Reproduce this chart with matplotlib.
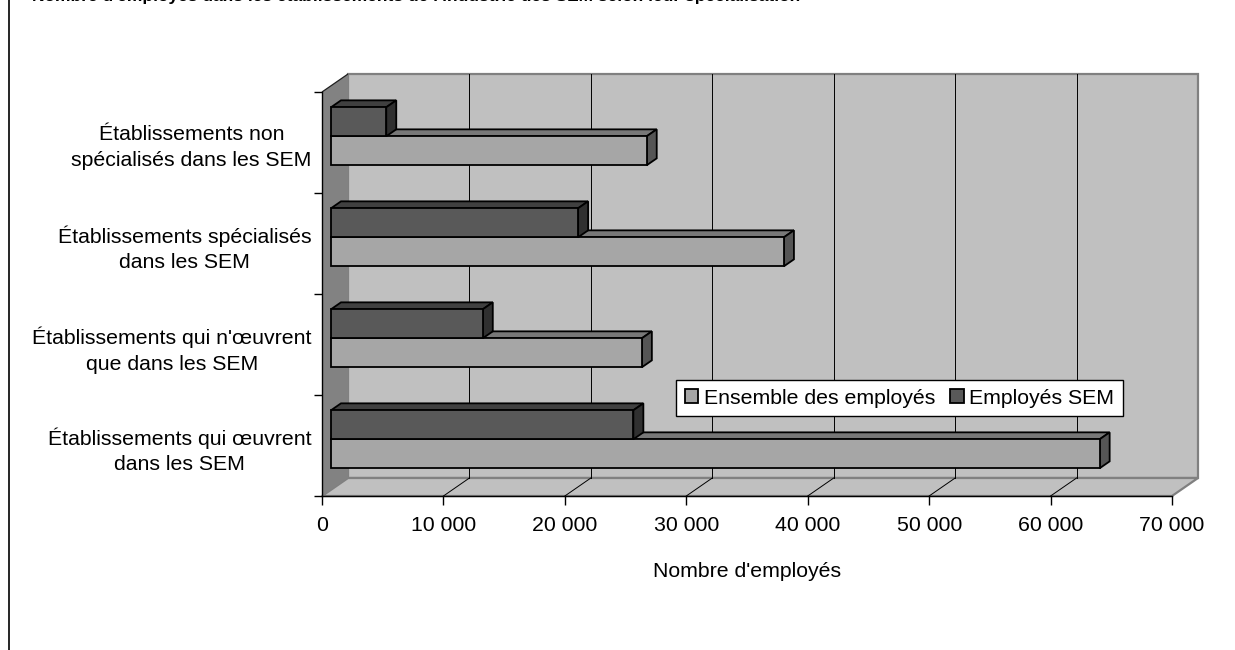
import matplotlib
matplotlib.use("Agg")
import matplotlib.pyplot as plt
from matplotlib.patches import Polygon, Patch
from matplotlib.lines import Line2D
from matplotlib.ticker import FixedLocator, FuncFormatter, NullFormatter

plt.rcParams['font.family'] = ['Liberation Sans', 'DejaVu Sans']

# ---- data -------------------------------------------------------------
categories = [
    "Établissements qui œuvrent\ndans les SEM",
    "Établissements qui n'œuvrent\nque dans les SEM",
    "Établissements spécialisés\ndans les SEM",
    "Établissements non\nspécialisés dans les SEM",
]
ensemble_employes = [63300, 25600, 37300, 26000]
employes_sem = [24900, 12500, 20350, 4550]
series_names = ["Ensemble des employés", "Employés SEM"]
value_ticks = [0, 10000, 20000, 30000, 40000, 50000, 60000, 70000]
title_text = ("Nombre d'employés dans les établissements de l'industrie "
              "des SEM selon leur spécialisation")
xlabel_text = "Nombre d'employés"

FS = 15.3

# ---- figure / front plane of the box ------------------------------------
W, H = 1235, 650
fig = plt.figure(figsize=(W / 100, H / 100), dpi=100)
fig.patch.set_facecolor("white")

fx0, fx1 = 322, 1172        # front plane, pixels
fy_top, fy_bot = 92, 496
ax = fig.add_axes([fx0 / W, (H - fy_bot) / H, (fx1 - fx0) / W, (fy_bot - fy_top) / H])
vmax = value_ticks[-1]
ncat = len(categories)
ax.set_xlim(0, vmax)
ax.set_ylim(0, ncat)
ax.patch.set_visible(False)

# depth vector of the box (26 px right, 18 px up) in data units
DX = 26 * vmax / (fx1 - fx0)
DY = 18 * ncat / (fy_bot - fy_top)


def P(v, c, d):
    return (v + d * DX, c + d * DY)


def poly(pts, fc, ec="none", lw=0.0, z=1):
    ax.add_patch(Polygon(pts, closed=True, facecolor=fc, edgecolor=ec,
                         linewidth=lw, zorder=z, clip_on=False,
                         joinstyle="miter"))


# walls and floor
poly([P(0, 0, 1), P(vmax, 0, 1), P(vmax, ncat, 1), P(0, ncat, 1)],
     "#C0C0C0", "#808080", 1.6, z=0.5)
poly([P(0, 0, 0), P(vmax, 0, 0), P(vmax, 0, 1), P(0, 0, 1)],
     "#C0C0C0", "#808080", 1.6, z=0.6)
poly([P(0, 0, 0), P(0, 0, 1), P(0, ncat, 1), P(0, ncat, 0)],
     "#828282", "none", 0, z=0.7)
ax.plot(*zip(P(0, ncat, 0), P(0, ncat, 1)), color="#202020", lw=0.9,
        zorder=0.8, clip_on=False, solid_capstyle="butt")

# gridlines on back wall and floor
for v in value_ticks[1:-1]:
    ax.plot(*zip(P(v, 0, 1), P(v, ncat, 1)), color="#000000", lw=0.7,
            zorder=1, clip_on=False)
    ax.plot(*zip(P(v, 0, 0), P(v, 0, 1)), color="#000000", lw=0.7,
            zorder=1, clip_on=False)

# ---- 3-D bars -----------------------------------------------------------
bar_h = 29 / 101
d0, d1 = 9 / 26, 9 / 26 + 10 / 26
light = dict(front="#A6A6A6", top="#787878", side="#555555")
dark = dict(front="#595959", top="#404040", side="#303030")


def bar3d(v, ylo, yhi, col, z):
    e = dict(ec="black", lw=1.3)
    poly([P(0, yhi, d0), P(v, yhi, d0), P(v, yhi, d1), P(0, yhi, d1)],
         col["top"], z=z, **e)
    poly([P(v, ylo, d0), P(v, ylo, d1), P(v, yhi, d1), P(v, yhi, d0)],
         col["side"], z=z, **e)
    poly([P(0, ylo, d0), P(v, ylo, d0), P(v, yhi, d0), P(0, yhi, d0)],
         col["front"], z=z, **e)


for i in range(ncat):
    c = i + 0.5
    bar3d(ensemble_employes[i], c - bar_h, c, light, z=3 + 2 * (ncat - i))
    bar3d(employes_sem[i], c, c + bar_h, dark, z=4 + 2 * (ncat - i))

# ---- axes, ticks, labels -------------------------------------------------
for s in ("top", "right"):
    ax.spines[s].set_visible(False)
for s in ("bottom", "left"):
    ax.spines[s].set_color("black")
    ax.spines[s].set_linewidth(1.0)
    ax.spines[s].set_zorder(2)

ax.xaxis.set_major_locator(FixedLocator(value_ticks))
ax.xaxis.set_major_formatter(
    FuncFormatter(lambda v, _: f"{v:,.0f}".replace(",", " ")))
ax.tick_params(axis="x", direction="out", length=6.5, width=1.0,
               pad=8, labelsize=FS, colors="black")

ax.yaxis.set_major_locator(FixedLocator(range(ncat + 1)))
ax.yaxis.set_major_formatter(NullFormatter())
ax.yaxis.set_minor_locator(FixedLocator([i + 0.5 for i in range(ncat)]))
ax.set_yticklabels(categories, minor=True)
ax.tick_params(axis="y", which="major", direction="out", length=5.8,
               width=1.0)
ax.tick_params(axis="y", which="minor", length=0, pad=7.5, labelsize=FS)
for t in ax.get_yticklabels(minor=True):
    t.set_multialignment("center")
    t.set_linespacing(1.45)

ax.set_xlabel(xlabel_text, fontsize=FS, labelpad=19)

# legend
handles = [Patch(facecolor=light["front"], edgecolor="black", lw=1.3),
           Patch(facecolor=dark["front"], edgecolor="black", lw=1.3)]
leg = ax.legend(handles, series_names, ncol=2, loc="upper left",
                bbox_to_anchor=(676 / W, 1 - 380 / H),
                bbox_transform=fig.transFigure, fontsize=FS,
                frameon=True, fancybox=False, framealpha=1, edgecolor="black",
                borderpad=0.4, handlelength=0.65, handleheight=0.65,
                handletextpad=0.25, columnspacing=0.7, borderaxespad=0)
leg.get_frame().set_linewidth(1.0)
leg.set_zorder(20)

# title (runs off the top edge) and left frame line
fig.text(32 / W, 1 - 0.5 / H, title_text, fontsize=12.5, fontweight="bold",
         ha="left", va="baseline")
fig.add_artist(Line2D([8.5 / W, 8.5 / W], [0, 1], color="black", lw=1.2,
                      transform=fig.transFigure))

fig.savefig("out.png", dpi=100)
